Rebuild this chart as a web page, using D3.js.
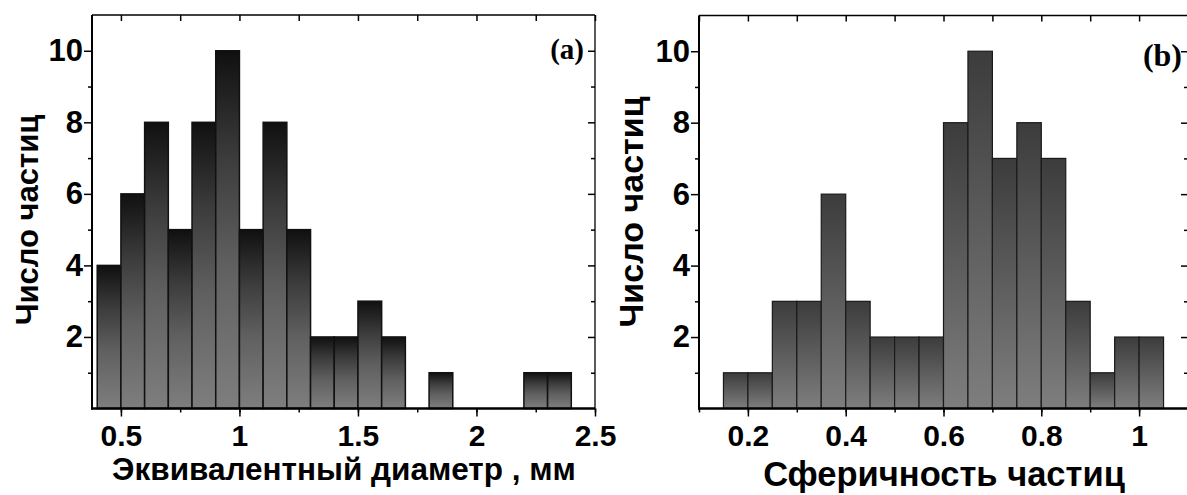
<!DOCTYPE html>
<html>
<head>
<meta charset="utf-8">
<script src="https://cdnjs.cloudflare.com/ajax/libs/d3/7.8.5/d3.min.js"></script>
<style>
body { margin: 0; background: #fff; }
svg { display: block; }
</style>
</head>
<body>
<svg id="mainSvg" width="1187" height="495"></svg>
<script>
// panel (a): equivalent diameter histogram
var diamStart = [0.4, 0.5, 0.6, 0.7, 0.8, 0.9, 1.0, 1.1, 1.2, 1.3, 1.4, 1.5, 1.6, 1.7, 1.8, 1.9, 2.0, 2.1, 2.2, 2.3];
var diamCount = [4, 6, 8, 5, 8, 10, 5, 8, 5, 2, 2, 3, 2, 0, 1, 0, 0, 0, 1, 1];
var diamStep = 0.1;
var diamTicks = [0.5, 1, 1.5, 2, 2.5];

// panel (b): sphericity histogram
var sphStart = [0.15, 0.2, 0.25, 0.3, 0.35, 0.4, 0.45, 0.5, 0.55, 0.6, 0.65, 0.7, 0.75, 0.8, 0.85, 0.9, 0.95, 1.0];
var sphCount = [1, 1, 3, 3, 6, 3, 2, 2, 2, 8, 10, 7, 8, 7, 3, 1, 2, 2];
var sphStep = 0.05;
var sphTicks = [0.2, 0.4, 0.6, 0.8, 1];

var countTicks = [2, 4, 6, 8, 10];
var yTitle = "Число частиц";
var xTitleA = "Эквивалентный диаметр , мм";
var xTitleB = "Сферичность частиц";

var mainSvg = d3.select("#mainSvg");
var defs = mainSvg.append("defs");

function addGrad(id, stops)
{
	var g = defs.append("linearGradient").attr("id", id).attr("x1", 0).attr("x2", 0).attr("y1", 0).attr("y2", 1);
	stops.forEach(function(s) {
		g.append("stop").attr("offset", s[0]).attr("stop-color", s[1]);
	});
}
addGrad("gradA", [["0%", "#101010"], ["30%", "#3c3c3c"], ["60%", "#606060"], ["100%", "#7e7e7e"]]);
addGrad("gradB", [["0%", "#3c3c3c"], ["100%", "#7e7e7e"]]);

function fmt(d) { return String(d); }

function drawPanel(p)
{
	var x = d3.scaleLinear().domain(p.xDomain).range([p.left, p.right]);
	var y = d3.scaleLinear().domain([0, 11]).range([p.bottom, p.top]);
	var g = mainSvg.append("g");

	// bars
	var bars = p.start.map(function(s, i) { return {x0: s, x1: s + p.step, n: p.count[i]}; }).filter(function(d) { return d.n > 0; });
	g.selectAll("rect.bar").data(bars).enter().append("rect").attr("class", "bar")
		.attr("x", function(d) { return x(d.x0); })
		.attr("width", function(d) { return x(d.x1) - x(d.x0); })
		.attr("y", function(d) { return y(d.n); })
		.attr("height", function(d) { return y(0) - y(d.n); })
		.attr("fill", "url(#" + p.grad + ")")
		.attr("stroke", p.barStroke).attr("stroke-width", p.barStrokeW);

	// minor / major ticks via axes
	var minorX = d3.range(Math.ceil(p.xDomain[0] / p.minorStep - 1e-6), Math.floor(p.xDomain[1] / p.minorStep + 1e-6) + 1).map(function(k) { return +(k * p.minorStep).toFixed(3); });
	var minorY = d3.range(1, 11, 2);

	var axB = g.append("g").attr("transform", "translate(0," + p.bottom + ")");
	axB.call(d3.axisBottom(x).tickValues(minorX).tickSize(4).tickFormat(""));
	axB.call(function(s) { s.select(".domain").remove(); });
	var axB2 = g.append("g").attr("transform", "translate(0," + p.bottom + ")");
	axB2.call(d3.axisBottom(x).tickValues(p.ticks).tickSize(8).tickPadding(10).tickFormat(fmt));
	axB2.select(".domain").remove();
	axB2.selectAll("text").attr("font-family", "Liberation Sans, Arial, sans-serif").attr("font-weight", "bold").attr("font-size", "30px").attr("fill", "#000").attr("dy", "0.66em");

	var axL = g.append("g").attr("transform", "translate(" + p.left + ",0)");
	axL.call(d3.axisLeft(y).tickValues(minorY).tickSize(4).tickFormat(""));
	axL.select(".domain").remove();
	var axL2 = g.append("g").attr("transform", "translate(" + p.left + ",0)");
	axL2.call(d3.axisLeft(y).tickValues(countTicks).tickSize(8).tickPadding(1).tickFormat(fmt));
	axL2.select(".domain").remove();
	axL2.selectAll("text").attr("font-family", "Liberation Sans, Arial, sans-serif").attr("font-weight", "bold").attr("font-size", "31px").attr("fill", "#000");

	var axT = g.append("g").attr("transform", "translate(0," + p.top + ")");
	axT.call(d3.axisTop(x).tickValues(p.topTicks).tickSize(-6).tickFormat(""));
	axT.select(".domain").remove();

	var axR = g.append("g").attr("transform", "translate(" + p.right + ",0)");
	axR.call(d3.axisRight(y).tickValues(minorY).tickSize(-4).tickFormat(""));
	axR.select(".domain").remove();
	var axR2 = g.append("g").attr("transform", "translate(" + p.right + ",0)");
	axR2.call(d3.axisRight(y).tickValues(countTicks).tickSize(-7).tickFormat(""));
	axR2.select(".domain").remove();

	g.selectAll(".tick line").attr("stroke", "#000").attr("stroke-width", 1.5);

	// frame
	g.append("line").attr("x1", p.left).attr("x2", p.right).attr("y1", p.top).attr("y2", p.top).attr("stroke", "#000").attr("stroke-width", 1.3);
	g.append("line").attr("x1", p.right).attr("x2", p.right).attr("y1", p.top).attr("y2", p.bottom).attr("stroke", "#000").attr("stroke-width", 1.3);
	g.append("line").attr("x1", p.left).attr("x2", p.left).attr("y1", p.top).attr("y2", p.bottom + 1).attr("stroke", "#000").attr("stroke-width", 2);
	g.append("line").attr("x1", p.left - 1).attr("x2", p.right).attr("y1", p.bottom).attr("y2", p.bottom).attr("stroke", "#000").attr("stroke-width", 2.5);

	// titles
	g.append("text").attr("x", p.xTitleX).attr("y", p.xTitleY).attr("text-anchor", "middle")
		.attr("font-family", "Liberation Sans, Arial, sans-serif").attr("font-weight", "bold").attr("font-size", p.titleSize + "px").text(p.xTitle);
	g.append("text").attr("transform", "translate(" + p.yTitleX + "," + p.yTitleY + ") rotate(-90)").attr("text-anchor", "middle")
		.attr("font-family", "Liberation Sans, Arial, sans-serif").attr("font-weight", "bold").attr("font-size", p.yTitleSize + "px").text(yTitle);
	g.append("text").attr("x", p.tagX).attr("y", p.tagY).attr("text-anchor", "end")
		.attr("font-family", "Liberation Serif, Times New Roman, serif").attr("font-weight", "bold").attr("font-size", p.tagSize + "px").text(p.tag);
}

drawPanel({
	left: 92, right: 595, top: 15, bottom: 408.5,
	xDomain: [0.378, 2.5], start: diamStart, count: diamCount, step: diamStep,
	ticks: diamTicks, minorStep: 0.25, topTicks: d3.range(0.5, 2.51, 0.25),
	grad: "gradA", barStroke: "#111", barStrokeW: 1.5,
	xTitle: xTitleA, xTitleX: 344, xTitleY: 480, yTitleX: 38, yTitleY: 220, titleSize: 31.5, yTitleSize: 31,
	tag: "(a)", tagX: 584, tagY: 59, tagSize: 29
});
drawPanel({
	left: 699, right: 1188, top: 15.5, bottom: 408.5,
	xDomain: [0.1, 1.1], start: sphStart, count: sphCount, step: sphStep,
	ticks: sphTicks, minorStep: 0.1, topTicks: d3.range(0.1, 1.1, 0.1),
	grad: "gradB", barStroke: "#1a1a1a", barStrokeW: 1.2,
	xTitle: xTitleB, xTitleX: 944, xTitleY: 486, yTitleX: 643, yTitleY: 212, titleSize: 34.5, yTitleSize: 34,
	tag: "(b)", tagX: 1182, tagY: 66, tagSize: 32
});
</script>
</body>
</html>
